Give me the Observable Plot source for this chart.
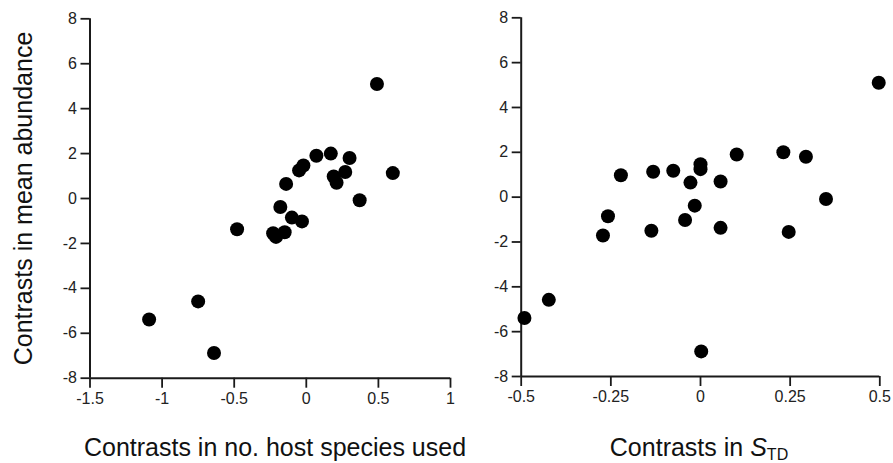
<!DOCTYPE html>
<html>
<head>
<meta charset="utf-8">
<script src="https://cdn.jsdelivr.net/npm/d3@7"></script>
<script src="https://cdn.jsdelivr.net/npm/@observablehq/plot@0.6"></script>
<style>
  html, body { margin: 0; padding: 0; background: #fff; }
  body { width: 893px; height: 463px; position: relative; overflow: hidden;
         font-family: "Liberation Sans", Arial, Helvetica, sans-serif; color: #111; }
  .panel { position: absolute; top: 0; }
  .panel svg [aria-label$="tick label"], .panel svg [aria-label$="tick label"] text {
    font-size: 16px !important; fill: #222 !important; }
  .panel svg [aria-label$="-axis tick"] { stroke: #1a1a1a !important; stroke-width: 1.8px !important; }
  .xtitle { position: absolute; top: 435px; font-size: 25px; line-height: 25px;
            white-space: nowrap; transform: translateX(-50%); color: #111; }
  .xtitle sub { font-size: 16px; vertical-align: -4px; line-height: 0; }
</style>
</head>
<body>
<div id="left" class="panel" style="left:0px"></div>
<div id="right" class="panel" style="left:460px"></div>
<div class="xtitle" style="left:275px">Contrasts in no. host species used</div>
<div class="xtitle" style="left:699px">Contrasts in <i>S</i><sub>TD</sub></div>
<script>
// Contrasts in mean abundance (shared y values)
const abundance = [5.1, 2.0, 1.9, 1.8, 1.47, 1.25, 1.18, 1.13, 0.98, 0.7, 0.65, -0.08, -0.38, -0.85, -1.02, -1.37, -1.5, -1.55, -1.71, -4.58, -5.39, -6.88];
// Contrasts in no. host species used
const hostSpecies = [0.49, 0.17, 0.07, 0.30, -0.02, -0.05, 0.27, 0.60, 0.19, 0.21, -0.14, 0.37, -0.18, -0.10, -0.03, -0.48, -0.15, -0.23, -0.21, -0.75, -1.09, -0.64];
// Contrasts in S_TD
const stdContrast = [0.497, 0.231, 0.101, 0.294, 0.0, 0.0, -0.076, -0.132, -0.222, 0.056, -0.028, 0.35, -0.016, -0.258, -0.043, 0.056, -0.137, 0.246, -0.272, -0.423, -0.491, 0.002];

const yTicks = [-8, -6, -4, -2, 0, 2, 4, 6, 8];
const xTicksLeft = [-1.5, -1, -0.5, 0, 0.5, 1];
const xTicksRight = [-0.5, -0.25, 0, 0.25, 0.5];
const yLabel = "Contrasts in mean abundance";

const leftData = abundance.map((y, i) => ({x: hostSpecies[i], y}));
const rightData = abundance.map((y, i) => ({x: stdContrast[i], y}));

const axisColor = "#1a1a1a";
const fmt = d => String(d);

function panel({data, xDomain, xTicks, width, marginLeft, marginRight, marginTop, marginBottom, withYLabel}) {
  const marks = [
    Plot.ruleX([xDomain[0]], {y1: -8, y2: 8, stroke: axisColor, strokeWidth: 2}),
    Plot.ruleY([-8], {x1: xDomain[0], x2: xDomain[1], stroke: axisColor, strokeWidth: 2}),
    Plot.axisX({ticks: xTicks, tickFormat: fmt, tickSize: 10, tickPadding: 4, fontSize: 16,
                stroke: axisColor, strokeWidth: 1.8, fill: "#222", label: null}),
    Plot.axisY({ticks: yTicks, tickFormat: fmt, tickSize: 9, tickPadding: 4, fontSize: 16,
                stroke: axisColor, strokeWidth: 1.8, fill: "#222", label: null}),
    Plot.dot(data, {x: "x", y: "y", r: 7, fill: "#000", stroke: "none"})
  ];
  if (withYLabel) {
    marks.push(Plot.text([yLabel], {text: d => d, frameAnchor: "left", textAnchor: "middle",
                                    rotate: -90, dx: -66.5, fontSize: 25, fill: "#111"}));
  }
  return Plot.plot({
    width, height: 415,
    marginLeft, marginRight, marginTop, marginBottom,
    style: {fontFamily: '"Liberation Sans", Arial, Helvetica, sans-serif', fontSize: "16px",
            background: "transparent", overflow: "visible"},
    x: {domain: xDomain},
    y: {domain: [-8, 8]},
    marks
  });
}

document.getElementById("left").appendChild(panel({
  data: leftData, xDomain: [-1.5, 1], xTicks: xTicksLeft,
  width: 460, marginLeft: 89.5, marginRight: 10, marginTop: 18.3, marginBottom: 37.3, withYLabel: true
}));
document.getElementById("right").appendChild(panel({
  data: rightData, xDomain: [-0.5, 0.5], xTicks: xTicksRight,
  width: 433, marginLeft: 60.7, marginRight: 13.7, marginTop: 17.3, marginBottom: 39, withYLabel: false
}));
</script>
</body>
</html>
